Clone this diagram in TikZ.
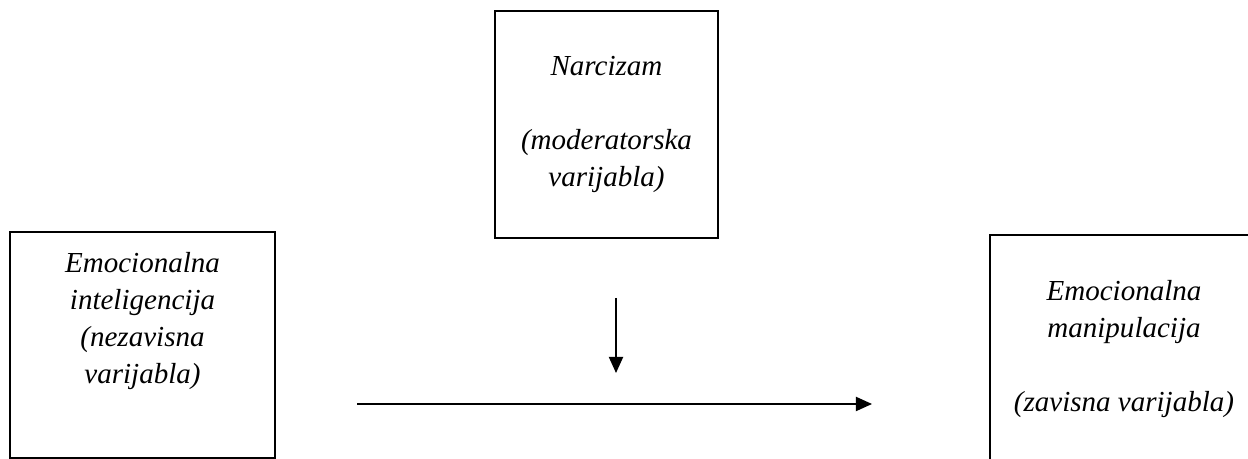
\documentclass[tikz,border=0pt]{standalone}
\usepackage{fontspec}
\setmainfont{Liberation Serif}
\usetikzlibrary{arrows.meta}

\begin{document}
\begin{tikzpicture}[x=0.4237pt,y=-0.4237pt,
    var/.style={draw,line width=1.1pt,align=center,inner sep=0pt,
      font=\fontsize{12.3}{15.7}\selectfont\itshape},
    effect/.style={-{Triangle[length=6.8pt,width=6pt]},line width=0.6pt}]
  \clip (0,0) rectangle (1248,459);

  %moderator
  \node[var,minimum width=94.5pt,minimum height=96.2pt] (narc) at (606.5,124.5)
    {Narcizam\\[15.7pt](moderatorska\\varijabla)};

  %left
  \node[var,minimum width=112.3pt,minimum height=95.8pt] (emint) at (142.5,345)
    {Emocionalna\\inteligencija\\(nezavisna\\varijabla)\\[7.2pt]\mbox{}};

  %right
  \node[var,minimum width=113.5pt,minimum height=96.5pt] (emman) at (1124,349)
    {Emocionalna\\manipulacija\\[15.7pt](zavisna varijabla)};

  %arrows
  \coordinate (modtop) at (616,298);
  \coordinate (modend) at (616,373);
  \coordinate (pathstart) at (357,404);
  \coordinate (pathend) at (872,404);
  \draw[effect] (modtop) -- (modend);
  \draw[effect] (pathstart) -- (pathend);
\end{tikzpicture}
\end{document}
